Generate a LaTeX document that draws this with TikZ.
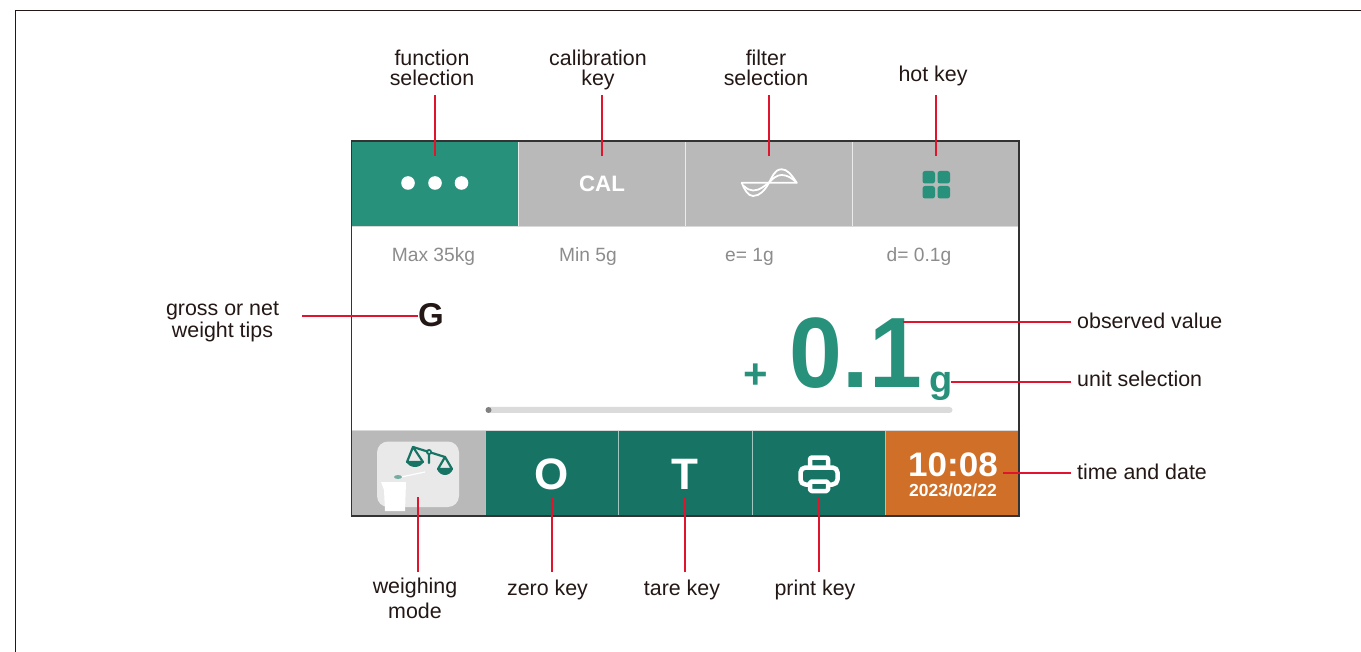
\documentclass[tikz,border=0pt]{standalone}
\usepackage{fontspec}
\setmainfont{Liberation Sans}
\definecolor{teal1}{HTML}{28917C}
\definecolor{teal2}{HTML}{177464}
\definecolor{greyk}{HTML}{B9B9B9}
\definecolor{orangek}{HTML}{D06F27}
\definecolor{redl}{HTML}{E0142D}
\definecolor{txt}{HTML}{231815}
\definecolor{soft}{HTML}{8C8C8C}
\definecolor{tilec}{HTML}{E9E9E9}
\tikzset{
  lab/.style={font=\fontsize{21.4}{23}\selectfont,text=txt,align=center,inner sep=0pt},
  spec/.style={font=\fontsize{19.2}{20}\selectfont,text=soft,inner sep=0pt},
  lead/.style={draw=redl,line width=1.2pt},
  sep/.style={draw=white!70!greyk,line width=1pt},
  big/.style={inner sep=0pt,text=white,font=\bfseries}
}
\begin{document}
\begin{tikzpicture}[x=1pt,y=-1pt]
\useasboundingbox (0,0) rectangle (1361,652);
\fill[white] (0,0) rectangle (1361,652);
\draw[txt,line width=1.3pt] (15.5,652) -- (15.5,10.5) -- (1361,10.5);
% top bar
\fill[teal1] (351.5,141) rectangle (518.5,226);
\fill[greyk] (518.5,141) rectangle (1019,226);
\draw[sep] (518.5,141) -- (518.5,226) (685.5,141) -- (685.5,226) (852.5,141) -- (852.5,226);
% bottom bar
\fill[greyk] (351.5,430.5) rectangle (485.5,516);
\fill[teal2] (485.5,430.5) rectangle (886,516);
\fill[orangek] (886,430.5) rectangle (1019,516);
\draw[white!60!teal2,line width=1pt] (485.5,430.5) -- (485.5,516) (618.5,430.5) -- (618.5,516) (752.5,430.5) -- (752.5,516) (885.8,430.5) -- (885.8,516);
\draw[white!85!black,line width=0.6pt] (351.5,430.5) -- (1019,430.5) (351.5,226) -- (1019,226);
% screen frame
\draw[black!80,line width=1.1pt] (351.5,141) rectangle (1019,516);
% top icons
\fill[white] (408,183) circle (6.8) (435,183) circle (6.8) (461.5,183) circle (6.8);
\node[big,font=\fontsize{22.3}{24}\selectfont\bfseries] (cal) at (602,183.5) {CAL};
% filter icon
\begin{scope}[draw=white,line width=1.8pt,line cap=round,line join=round]
\draw (741.7,182.7) -- (796.7,182.7) .. controls (791,174) and (787,169.3) .. (781.7,169.3) .. controls (774,169.3) and (772,178) .. (769,182.7) .. controls (765,190) and (760,196) .. (753,196) .. controls (748,196) and (744,189) .. (741.7,182.7);
\draw (744,186) .. controls (747,189) and (750,190.5) .. (753,190.5) .. controls (760,190.5) and (764,186) .. (769,182.7) .. controls (773,178) and (777,175) .. (781.7,175) .. controls (787,175) and (792,178) .. (796.7,182.7);
\end{scope}
\fill[teal1,rounded corners=2.5pt] (922.5,171) rectangle (935,183.5);
\fill[teal1,rounded corners=2.5pt] (937.5,171) rectangle (950,183.5);
\fill[teal1,rounded corners=2.5pt] (922.5,186) rectangle (935,198.5);
\fill[teal1,rounded corners=2.5pt] (937.5,186) rectangle (950,198.5);
% spec row
\node[spec] (mx) at (433.5,257) {Max 35kg};
\node[spec] (mn) at (588,257) {Min 5g};
\node[spec] (ee) at (749.5,257) {e= 1g};
\node[spec] (dd) at (919,257) {d= 0.1g};
% readings
\node[inner sep=0pt,text=txt,font=\fontsize{33}{35}\selectfont\bfseries] (gg) at (431,315.5) {G};
\node[inner sep=0pt,text=teal1,font=\fontsize{42}{44}\selectfont\bfseries] (plus) at (755.5,376) {+};
\node[inner sep=0pt,text=teal1,font=\fontsize{100}{106}\selectfont\bfseries,anchor=base,xscale=0.95] (val) at (856,388) {0.1};
\node[inner sep=0pt,text=teal1,font=\fontsize{38}{40}\selectfont\bfseries,anchor=base] (unit) at (941,392) {g};
% progress
\fill[black!14,rounded corners=3pt] (486,407) rectangle (952.5,413);
\fill[black!50] (488.5,410) circle (3);
% weighing tile
\fill[tilec,rounded corners=11pt] (377,441.5) rectangle (459,507);
\begin{scope}[draw=teal2,line width=2.2pt,line join=round,line cap=round]
\draw (413,447) -- (429,452) -- (445,457) (429,452) -- (429,463);
\draw (413,447) -- (407,462) -- (423,462) -- cycle;
\fill[teal2] (406,461) -- (424,461) .. controls (421,469) and (409,469) .. (406,461);
\draw (445,457) -- (438,469) -- (452,469) -- cycle;
\fill[teal2] (437,469) -- (453,469) .. controls (450,477) and (440,477) .. (437,469);
\fill[teal2] (429,452) circle (3);
\end{scope}
\fill[white] (429,452) circle (1);
\draw[white,line width=1.2pt] (401,477) -- (425,472);
\fill[teal2!60!white] (398,477) ellipse (4 and 2);
\fill[white] (381,482) -- (406,482) -- (405,511) -- (385,511) -- (384,490) -- cycle;
% bottom keys
\node[big,font=\fontsize{44}{46}\selectfont\bfseries] (okey) at (552,474) {O};
\node[big,font=\fontsize{44}{46}\selectfont\bfseries] (tkey) at (685,474) {T};
% printer
\begin{scope}[draw=white,line width=4.5pt,line join=round]
\draw[rounded corners=2pt] (810,468) -- (810,457.5) -- (828,457.5) -- (828,468);
\draw[rounded corners=5pt] (808,484.5) -- (800.5,484.5) -- (800.5,467.5) -- (837.5,467.5) -- (837.5,484.5) -- (830,484.5);
\draw[rounded corners=1.5pt] (810,481.5) rectangle (828,491);
\end{scope}
\node[big,font=\fontsize{34}{35}\selectfont\bfseries,xscale=1.03] (clock) at (953,464.5) {10:08};
\node[big,font=\fontsize{17.5}{18}\selectfont\bfseries] (date) at (953,490.5) {2023/02/22};
% labels
\node[lab] (l1) at (432,68) {function\\[-3.5pt]selection};
\node[lab] (l2) at (598,70) {calibration\\[-3.5pt]key};
\node[lab] (l3) at (766,68) {filter\\[-3.5pt]selection};
\node[lab] (l4) at (933,76) {hot key};
\node[lab] (l5) at (222.5,322) {gross or net\\[-0.5pt]weight tips};
\node[lab,anchor=west] (l6) at (1077,321) {observed value};
\node[lab,anchor=west] (l7) at (1077,379) {unit selection};
\node[lab,anchor=west] (l8) at (1077,472) {time and date};
\node[lab] (l9) at (415,598.5) {weighing\\[1.5pt]mode};
\node[lab] (l10) at (547.5,590) {zero key};
\node[lab] (l11) at (682,590) {tare key};
\node[lab] (l12) at (815,590) {print key};
% leader anchors
\coordinate (c1a) at (435,95); \coordinate (c1b) at (435,156);
\coordinate (c2a) at (602,95); \coordinate (c2b) at (602,156);
\coordinate (c3a) at (769,95); \coordinate (c3b) at (769,156);
\coordinate (c4a) at (936,95); \coordinate (c4b) at (936,156);
\coordinate (c5a) at (302,316); \coordinate (c5b) at (418,316);
\coordinate (c6a) at (1071,322); \coordinate (c6b) at (903,322);
\coordinate (c7a) at (1071,382); \coordinate (c7b) at (951,382);
\coordinate (c8a) at (1071,473); \coordinate (c8b) at (1003,473);
\coordinate (c9a) at (418,572); \coordinate (c9b) at (418,497);
\coordinate (c10a) at (552,572); \coordinate (c10b) at (552,497);
\coordinate (c11a) at (685,572); \coordinate (c11b) at (685,497);
\coordinate (c12a) at (819,572); \coordinate (c12b) at (819,497);
\foreach \n in {1,...,12} \draw[lead] (c\n a) -- (c\n b);
\end{tikzpicture}
\end{document}
